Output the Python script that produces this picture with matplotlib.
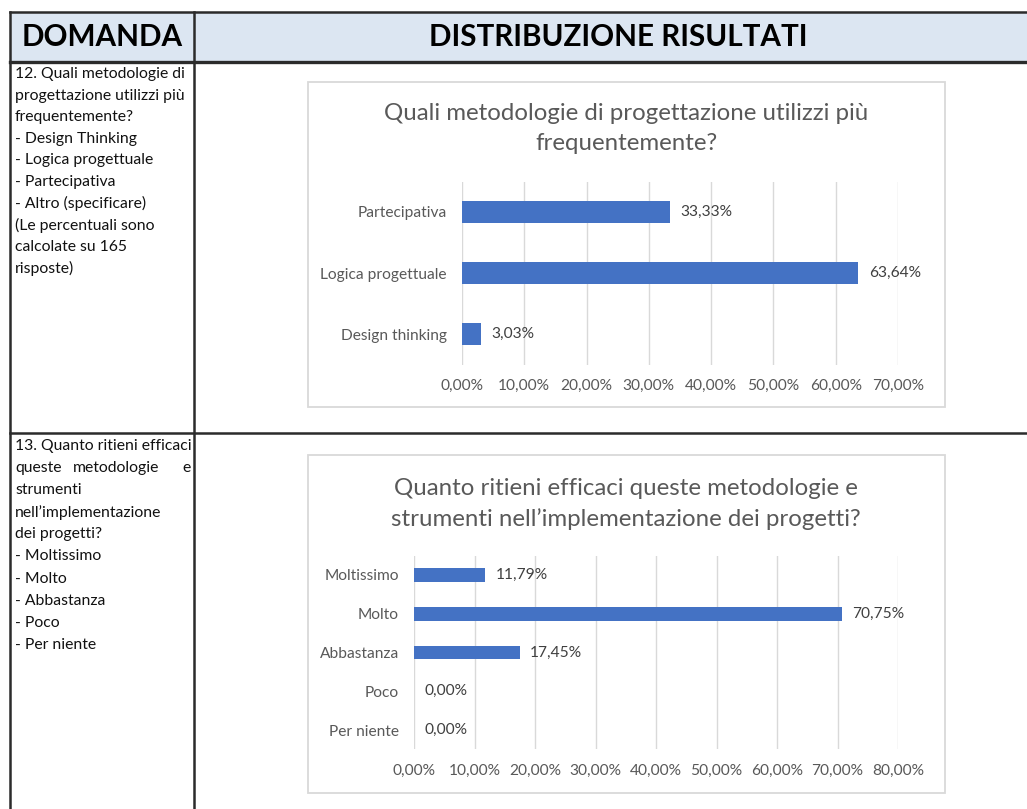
import matplotlib
matplotlib.use("Agg")
import matplotlib.pyplot as plt
from matplotlib.ticker import FuncFormatter, MultipleLocator
from matplotlib.patches import Rectangle

# ---------------- data ----------------
header_left = "DOMANDA"
header_right = "DISTRIBUZIONE RISULTATI"

q1_text = ["12. Quali metodologie di", "progettazione utilizzi più", "frequentemente?",
           "- Design Thinking", "- Logica progettuale", "- Partecipativa",
           "- Altro (specificare)", "(Le percentuali sono", "calcolate su 165", "risposte)"]
q2_text = ["13. Quanto ritieni efficaci", "queste  metodologie  e", "strumenti",
           "nell\u2019implementazione", "dei progetti?", "- Moltissimo", "- Molto",
           "- Abbastanza", "- Poco", "- Per niente"]

chart1_title = ["Quali metodologie di progettazione utilizzi più", "frequentemente?"]
chart1_categories = ["Design thinking", "Logica progettuale", "Partecipativa"]
chart1_values = [3.03, 63.64, 33.33]
chart1_ticks = [0, 10, 20, 30, 40, 50, 60, 70]

chart2_title = ["Quanto ritieni efficaci queste metodologie e",
                "strumenti nell\u2019implementazione dei progetti?"]
chart2_categories = ["Per niente", "Poco", "Abbastanza", "Molto", "Moltissimo"]
chart2_values = [0.00, 0.00, 17.45, 70.75, 11.79]
chart2_ticks = [0, 10, 20, 30, 40, 50, 60, 70, 80]

# ---------------- setup ----------------
W, H = 1027, 809
FAM = ["Lato", "DejaVu Sans"]
BAR = "#4472C4"
GRID = "#D9D9D9"
GRAY = "#595959"
LINE = "#2b2b2b"

fig = plt.figure(figsize=(W / 100, H / 100), dpi=100)
renderer = fig.canvas.get_renderer()

bg = fig.add_axes([0, 0, 1, 1])
bg.set_xlim(0, W)
bg.set_ylim(H, 0)
bg.axis("off")


def fit(text, width_px, weight="normal", base=20.0):
    t = fig.text(0, 0, text, fontsize=base, family=FAM, weight=weight)
    w = t.get_window_extent(renderer).width
    t.remove()
    return base * width_px / w


# header background
bg.add_patch(Rectangle((10, 12), W - 10, 49.5, facecolor="#DCE6F2", edgecolor="none", zorder=0))
# table lines
lw = 1.8
bg.plot([10, W], [12, 12], color=LINE, lw=lw, zorder=2)
bg.plot([10, W], [61.5, 61.5], color=LINE, lw=2.4, zorder=2)
bg.plot([10, W], [433, 433], color=LINE, lw=lw, zorder=2)
bg.plot([10, 10], [12, H], color=LINE, lw=lw, zorder=2)
bg.plot([194, 194], [12, H], color=LINE, lw=lw, zorder=2)

# header text
fs_h = fit(header_left, 161, weight="bold")
bg.text(102.5, 37, header_left, fontsize=fs_h, family=FAM, weight="bold",
        ha="center", va="center", color="black")
bg.text(618.5, 37, header_right, fontsize=fs_h, family=FAM, weight="bold",
        ha="center", va="center", color="black")

# left column text
fs_l = fit("13. Quanto ritieni efficaci", 177)
for i, line in enumerate(q1_text):
    bg.text(15, 74 + i * 21.6, line, fontsize=fs_l, family=FAM, ha="left", va="center", color="#111111")
for i, line in enumerate(q2_text):
    y = 446 + i * 22.1
    if i == 1:
        words = line.split()
        bg.text(15, y, words[0], fontsize=fs_l, family=FAM, ha="left", va="center", color="#111111")
        bg.text(116, y, words[1], fontsize=fs_l, family=FAM, ha="center", va="center", color="#111111")
        bg.text(191, y, words[2], fontsize=fs_l, family=FAM, ha="right", va="center", color="#111111")
    else:
        bg.text(15, y, line, fontsize=fs_l, family=FAM, ha="left", va="center", color="#111111")

# chart boxes
bg.add_patch(Rectangle((308, 82), 637, 325, facecolor="white", edgecolor=GRID, lw=1.3, zorder=1))
bg.add_patch(Rectangle((308, 455), 637, 338, facecolor="white", edgecolor=GRID, lw=1.3, zorder=1))

# chart titles
fs_t = fit(chart1_title[0], 485)
bg.text(626, 113, chart1_title[0], fontsize=fs_t, family=FAM, ha="center", va="center", color=GRAY)
bg.text(626, 143, chart1_title[1], fontsize=fs_t, family=FAM, ha="center", va="center", color=GRAY)
bg.text(626, 488, chart2_title[0], fontsize=fs_t, family=FAM, ha="center", va="center", color=GRAY)
bg.text(626, 519, chart2_title[1], fontsize=fs_t, family=FAM, ha="center", va="center", color=GRAY)

fs_a = fit("Logica progettuale", 127)


def pct(v, pos=None):
    return f"{v:.2f}".replace(".", ",") + "%"


def make_chart(x0, x1, y0, y1, cats, vals, ticks, bar_h):
    ax = fig.add_axes([x0 / W, 1 - y1 / H, (x1 - x0) / W, (y1 - y0) / H])
    ax.patch.set_alpha(0)
    n = len(cats)
    ypos = list(range(n))
    bars = ax.barh(ypos, vals, height=bar_h, color=BAR, zorder=3)
    ax.set_ylim(-0.5, n - 0.5)
    ax.set_xlim(ticks[0], ticks[-1])
    ax.set_xticks(ticks)
    ax.xaxis.set_major_formatter(FuncFormatter(pct))
    ax.set_yticks(ypos)
    ax.set_yticklabels(cats)
    for s in ax.spines.values():
        s.set_visible(False)
    ax.grid(axis="x", color=GRID, lw=1.0, zorder=0)
    ax.tick_params(axis="both", length=0, colors=GRAY, labelsize=fs_a)
    ax.tick_params(axis="x", pad=10.5)
    ax.tick_params(axis="y", pad=10.8)
    for lab in ax.get_xticklabels() + ax.get_yticklabels():
        lab.set_family(FAM)
    ax.bar_label(bars, labels=[pct(v) for v in vals], padding=7.5,
                 fontsize=fs_a, family=FAM, color="#404040")
    return ax


make_chart(462, 898, 181.5, 364.5, chart1_categories, chart1_values, chart1_ticks, 0.36)
make_chart(414, 898, 555.6, 749.4, chart2_categories, chart2_values, chart2_ticks, 0.36)

fig.savefig("out.png", dpi=100)
